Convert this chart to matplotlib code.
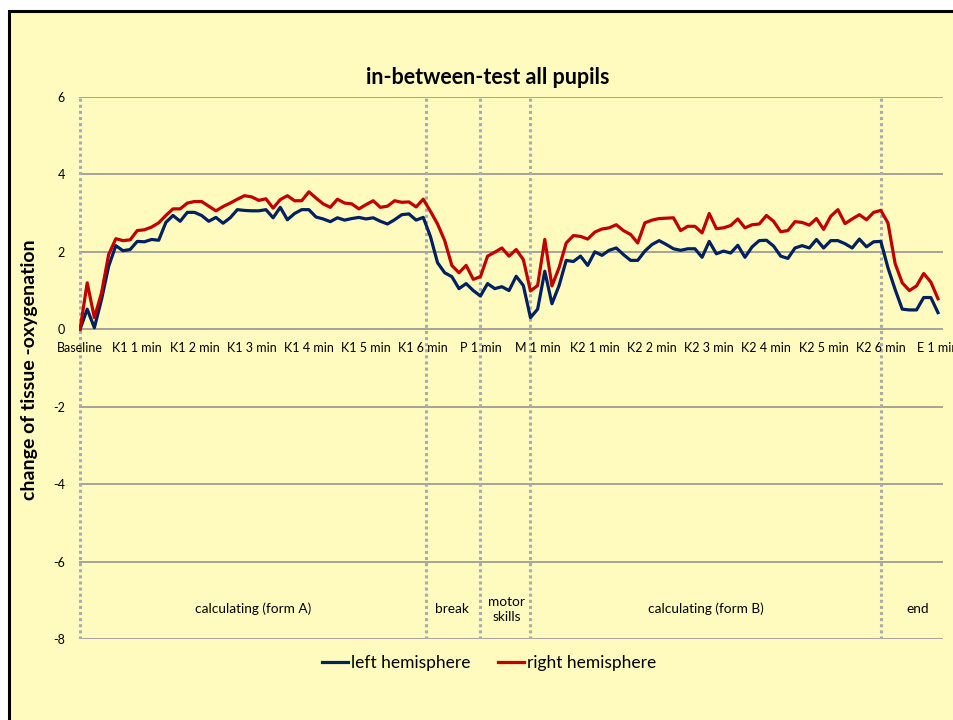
import matplotlib
matplotlib.use('Agg')
import matplotlib.pyplot as plt
from matplotlib.patches import Rectangle

plt.rcParams['font.family'] = ['Lato', 'DejaVu Sans']
plt.rcParams['axes.unicode_minus'] = False

# readings every 7.5 s, labelled every full minute
left_hemisphere = [
    0.00, 0.52, 0.04, 0.77, 1.63, 2.16, 2.03, 2.06, 2.27, 2.26,
    2.32, 2.30, 2.76, 2.94, 2.79, 3.02, 3.02, 2.94, 2.79, 2.89,
    2.74, 2.88, 3.09, 3.07, 3.06, 3.06, 3.09, 2.88, 3.15, 2.83,
    2.99, 3.09, 3.09, 2.90, 2.85, 2.78, 2.88, 2.82, 2.86, 2.89,
    2.85, 2.88, 2.79, 2.72, 2.83, 2.96, 2.98, 2.82, 2.89, 2.40,
    1.72, 1.46, 1.36, 1.05, 1.18, 1.00, 0.86, 1.18, 1.05, 1.10,
    1.00, 1.37, 1.13, 0.30, 0.52, 1.50, 0.66, 1.13, 1.78, 1.75,
    1.89, 1.65, 2.00, 1.91, 2.04, 2.10, 1.93, 1.78, 1.78, 2.02,
    2.19, 2.29, 2.19, 2.08, 2.04, 2.08, 2.08, 1.86, 2.27, 1.95,
    2.02, 1.97, 2.17, 1.86, 2.13, 2.29, 2.30, 2.15, 1.89, 1.83,
    2.10, 2.16, 2.10, 2.32, 2.10, 2.29, 2.29, 2.21, 2.10, 2.33,
    2.13, 2.26, 2.27, 1.59, 1.03, 0.52, 0.50, 0.50, 0.82, 0.82,
    0.43,
]
right_hemisphere = [
    0.00, 1.20, 0.30, 0.94, 1.93, 2.34, 2.29, 2.31, 2.55, 2.57,
    2.64, 2.75, 2.94, 3.11, 3.11, 3.26, 3.30, 3.30, 3.18, 3.06,
    3.17, 3.26, 3.36, 3.45, 3.42, 3.33, 3.37, 3.13, 3.35, 3.45,
    3.32, 3.32, 3.55, 3.39, 3.24, 3.15, 3.36, 3.26, 3.24, 3.11,
    3.22, 3.32, 3.15, 3.18, 3.32, 3.28, 3.29, 3.16, 3.36, 3.05,
    2.72, 2.29, 1.65, 1.46, 1.65, 1.29, 1.36, 1.89, 1.99, 2.10,
    1.89, 2.06, 1.80, 0.99, 1.13, 2.32, 1.12, 1.59, 2.23, 2.42,
    2.40, 2.33, 2.51, 2.59, 2.62, 2.70, 2.55, 2.45, 2.23, 2.75,
    2.82, 2.86, 2.87, 2.88, 2.55, 2.66, 2.66, 2.49, 2.99, 2.60,
    2.62, 2.68, 2.85, 2.62, 2.70, 2.72, 2.94, 2.79, 2.52, 2.55,
    2.78, 2.76, 2.69, 2.86, 2.58, 2.92, 3.09, 2.73, 2.85, 2.96,
    2.83, 3.02, 3.07, 2.75, 1.70, 1.20, 1.00, 1.12, 1.44, 1.22,
    0.79,
]
minute_labels = ['Baseline', 'K1 1 min', 'K1 2 min', 'K1 3 min', 'K1 4 min',
                 'K1 5 min', 'K1 6 min', 'P 1 min', 'M 1 min', 'K2 1 min',
                 'K2 2 min', 'K2 3 min', 'K2 4 min', 'K2 5 min', 'K2 6 min',
                 'E 1 min']
phase_names = ['calculating (form A)', 'break', 'motor\nskills',
               'calculating (form B)', 'end']
phase_centers = [24.2, 52.0, 59.7, 87.6, 117.2]
phase_bounds = [0, 48.4, 56, 63, 112]

bg = '#fffbbe'
fig = plt.figure(figsize=(9.54, 7.2), dpi=100)
fig.patch.set_facecolor('white')
fig.patches.append(Rectangle((9 / 954, -0.1), 1.2, 1.1 - 11 / 720,
                             transform=fig.transFigure, facecolor=bg,
                             edgecolor='black', lw=2.2, zorder=-10))

ax = fig.add_axes([79 / 954, 1 - 639 / 720, 864 / 954, 542 / 720])
ax.set_facecolor('none')
x = list(range(len(left_hemisphere)))

for yv in range(-8, 7, 2):
    ax.axhline(yv, color='#8c8c8c', lw=1.1, zorder=1)
for xb in phase_bounds:
    ax.axvline(xb, color='#ababab', lw=2.2, ls=(0, (1, 1)), zorder=1)

ax.plot(x, left_hemisphere, color='#002060', lw=2.3, label='left hemisphere',
        zorder=3)
ax.plot(x, right_hemisphere, color='#c00000', lw=2.3,
        label='right hemisphere', zorder=3)

ax.set_xlim(-0.15, 120.7)
ax.set_ylim(-8, 6)
for s in ax.spines.values():
    s.set_visible(False)
ax.spines['bottom'].set_position(('data', 0))
ax.set_xticks(range(0, len(x), 8))
ax.set_xticklabels(minute_labels, fontsize=9)
ax.set_yticks(range(-8, 7, 2))
ax.tick_params(axis='x', length=0, pad=9)
ax.tick_params(axis='y', length=0, pad=10, labelsize=9)
for lab in ax.get_xticklabels():
    lab.set_clip_on(False)

for name, xc in zip(phase_names, phase_centers):
    ax.text(xc, -7.23, name, ha='center', va='center', fontsize=9.8,
            linespacing=1.3)

fig.text(488 / 954, 1 - 78 / 720, 'in-between-test all pupils',
         ha='center', va='center', fontsize=15.5, fontweight='bold')
fig.text(30 / 954, 1 - 370 / 720, 'change of tissue -oxygenation',
         ha='center', va='center', rotation=90, fontsize=14,
         fontweight='bold')

fig.legend(loc='center', bbox_to_anchor=(489 / 954, 1 - 663 / 720),
           ncol=2, frameon=False, fontsize=12.5, handlelength=1.5,
           handletextpad=0.15, columnspacing=1.6)

fig.savefig('out.png', dpi=100, facecolor=fig.get_facecolor())
